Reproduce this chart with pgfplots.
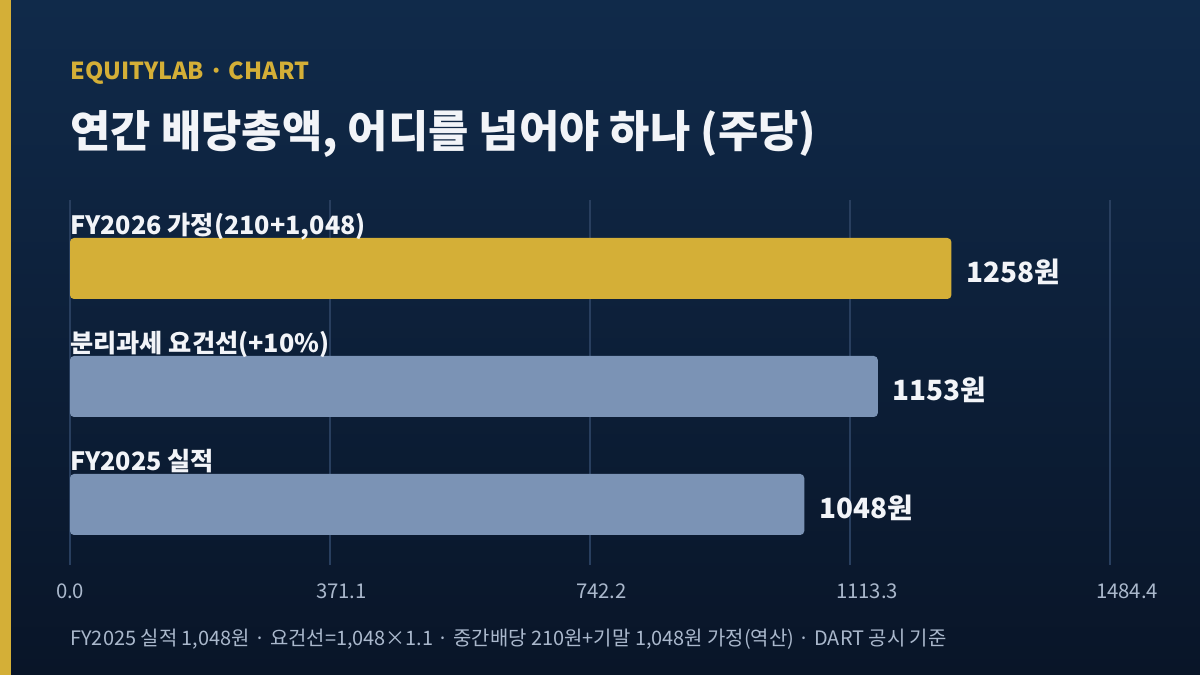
\documentclass[border=0pt]{standalone}
\usepackage{fontspec}
\setmainfont{Noto Sans CJK KR}
\usepackage{pgfplots}
\pgfplotsset{compat=1.18}

\definecolor{bgtop}{RGB}{16,42,74}
\definecolor{bgbot}{RGB}{9,21,40}
\definecolor{gold}{RGB}{212,175,55}
\definecolor{barc}{RGB}{123,147,181}
\definecolor{gridc}{RGB}{40,62,94}
\definecolor{tickc}{RGB}{170,184,204}
\definecolor{titlec}{RGB}{242,244,248}

\begin{document}
\begin{tikzpicture}
% background, 1px = 0.5bp
\shade[top color=bgtop, bottom color=bgbot] (0,0) rectangle (600bp,337.5bp);
\fill[gold] (0,0) rectangle (5.5bp,337.5bp);

\node[anchor=base west, inner sep=0, text=gold, font=\bfseries\fontsize{11.75}{14}\selectfont]
  at (35bp,297.5bp) {EQUITYLAB · CHART};
\node[anchor=base west, inner sep=0, text=titlec, font=\bfseries\fontsize{22}{26}\selectfont]
  at (35bp,263.5bp) {연간 배당총액, 어디를 넘어야 하나 (주당)};
\node[anchor=base west, inner sep=0, text=tickc, font=\fontsize{10}{12}\selectfont]
  at (35bp,15bp) {FY2025 실적 1,048원 · 요건선=1,048×1.1 · 중간배당 210원+기말 1,048원 가정(역산) · DART 공시 기준};

\begin{axis}[
  at={(35bp,55bp)}, anchor=south west,
  scale only axis, width=520bp, height=182.5bp,
  xmin=0, xmax=1484.4, ymin=-0.5127, ymax=2.5805,
  xbar, bar width=30.5bp, bar shift=0pt,
  axis line style={draw=none},
  major tick length=0pt,
  ytick=\empty,
  xtick={0,371.1,742.2,1113.3,1484.4},
  xmajorgrids, grid style={gridc, line width=0.6bp},
  /pgf/number format/assume math mode=true,
  xticklabel={\pgfmathprintnumber[fixed,fixed zerofill,precision=1,1000 sep={}]{\tick}},
  xticklabel style={text=tickc, font=\fontsize{10.2}{12}\selectfont,
    anchor=north west, xshift=-10.5bp, yshift=-6bp},
  clip=false,
  nodes near coords={\pgfmathprintnumber[fixed,precision=0,1000 sep={}]{\pgfplotspointmeta}원},
  every node near coord/.append style={anchor=west, xshift=4bp, yshift=-1.5bp, text=titlec,
    font=\bfseries\fontsize{14}{16}\selectfont},
]
\addplot[fill=barc, draw=none, rounded corners=2bp] coordinates {(1048,0) (1153,1)};
\addplot[fill=gold, draw=none, rounded corners=2bp] coordinates {(1258,2)};

\node[anchor=base west, inner sep=0, yshift=17bp, text=titlec, font=\bfseries\fontsize{12.65}{15}\selectfont]
  at (axis cs:0,2) {FY2026 가정(210+1,048)};
\node[anchor=base west, inner sep=0, yshift=17bp, text=titlec, font=\bfseries\fontsize{12.65}{15}\selectfont]
  at (axis cs:0,1) {분리과세 요건선(+10\%)};
\node[anchor=base west, inner sep=0, yshift=17bp, text=titlec, font=\bfseries\fontsize{12.65}{15}\selectfont]
  at (axis cs:0,0) {FY2025 실적};
\end{axis}
\end{tikzpicture}
\end{document}
